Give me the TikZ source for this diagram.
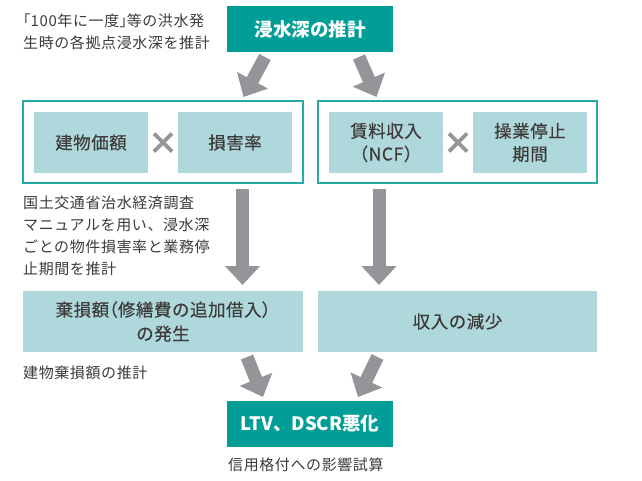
\documentclass[tikz,border=0pt]{standalone}
\usepackage{fontspec}
\setmainfont{Noto Sans CJK JP}
\usetikzlibrary{arrows.meta}
\definecolor{tealdark}{RGB}{0,158,150}
\definecolor{tealline}{RGB}{40,170,164}
\definecolor{lightbox}{RGB}{174,216,220}
\definecolor{arrowgray}{RGB}{147,149,152}
\definecolor{txt}{RGB}{62,58,57}
\newcommand{\hw}[1]{{\addfontfeatures{RawFeature=+halt}#1}}
\tikzset{
  titlebox/.style={fill=tealdark, text=white, inner sep=0pt, minimum width=166pt, minimum height=46pt,
    font=\fontsize{18.5}{22}\selectfont\bfseries},
  outerbox/.style={draw=tealline, line width=1.3pt, fill=white, inner sep=0pt, minimum height=82pt},
  itembox/.style={fill=lightbox, text=txt, inner sep=0pt, minimum width=114pt, minimum height=61pt, align=center,
    font=\fontsize{17.5}{23}\selectfont\addfontfeatures{LetterSpace=3,FakeBold=0.3}},
  widebox/.style={fill=lightbox, text=txt, inner sep=0pt, minimum width=280pt, minimum height=61pt, align=center,
    font=\fontsize{17.5}{24}\selectfont\addfontfeatures{LetterSpace=3,FakeBold=0.3}},
  note/.style={text=txt, inner sep=0pt, anchor=west, align=left,
    font=\fontsize{15}{22}\selectfont\addfontfeatures{LetterSpace=4}},
  bigarrow/.style={draw=arrowgray, line width=13pt, -{Triangle[width=34pt,length=19pt]}},
  timesmark/.style={draw=arrowgray, line width=3.6pt}
}
\begin{document}
\begin{tikzpicture}[x=1pt,y=-1pt]
\useasboundingbox (0,0) rectangle (642,480);
% top
\node[titlebox] (top) at (310,29) {浸水深の推計};
\node[note, anchor=west] (note1) at (23,31.5) {\hw{「}100年に一度\hw{」}等の洪水発\\生時の各拠点浸水深を推計};
% outer boxes
\node[outerbox, minimum width=280pt] (outL) at (163,142) {};
\node[outerbox, minimum width=279pt] (outR) at (457.5,142) {};
\node[itembox] (bldg) at (91,142.5) {建物価額};
\node[itembox] (dmg) at (235,142.5) {損害率};
\node[itembox] (rent) at (386,142.5) {賃料収入\\（NCF）};
\node[itembox] (stop) at (530,142.5) {操業停止\\期間};
\coordinate (xL) at (163,142.5);
\coordinate (xR) at (458,142.5);
\draw[timesmark] ([shift={(-9,-9)}]xL) -- ([shift={(9,9)}]xL);
\draw[timesmark] ([shift={(-9,9)}]xL) -- ([shift={(9,-9)}]xL);
\draw[timesmark] ([shift={(-9,-9)}]xR) -- ([shift={(9,9)}]xR);
\draw[timesmark] ([shift={(-9,9)}]xR) -- ([shift={(9,-9)}]xR);
% top arrows
\coordinate (a1s) at (265,57);
\coordinate (a1e) at (243.5,97);
\coordinate (a2s) at (359,57);
\coordinate (a2e) at (376.5,97);
\draw[bigarrow] (a1s) -- (a1e);
\draw[bigarrow] (a2s) -- (a2e);
% middle note
\node[note] (note2) at (23,235.5) {国土交通省治水経済調査\\マニュアルを用い、浸水深\\ごとの物件損害率と業務停\\止期間を推計};
% vertical arrows
\coordinate (v1s) at (242.5,189);
\coordinate (v1e) at (242.5,285);
\coordinate (v2s) at (379,189);
\coordinate (v2e) at (379,285);
\draw[bigarrow] (v1s) -- (v1e);
\draw[bigarrow] (v2s) -- (v2e);
% middle boxes
\node[widebox] (loss) at (163,321.5) {棄損額\hw{（}修繕費の追加借入\hw{）}\\の発生};
\node[widebox, minimum width=279pt] (inc) at (457.5,321.5) {収入の減少};
\node[note] (note3) at (23,373) {建物棄損額の推計};
% bottom arrows
\coordinate (b1s) at (247,357);
\coordinate (b1e) at (263,397);
\coordinate (b2s) at (377.5,357);
\coordinate (b2e) at (358,397);
\draw[bigarrow] (b1s) -- (b1e);
\draw[bigarrow] (b2s) -- (b2e);
% bottom
\node[titlebox] (ltv) at (310,424) {LTV、DSCR悪化};
\node[note] (note4) at (228,465) {信用格付への影響試算};
\end{tikzpicture}
\end{document}
